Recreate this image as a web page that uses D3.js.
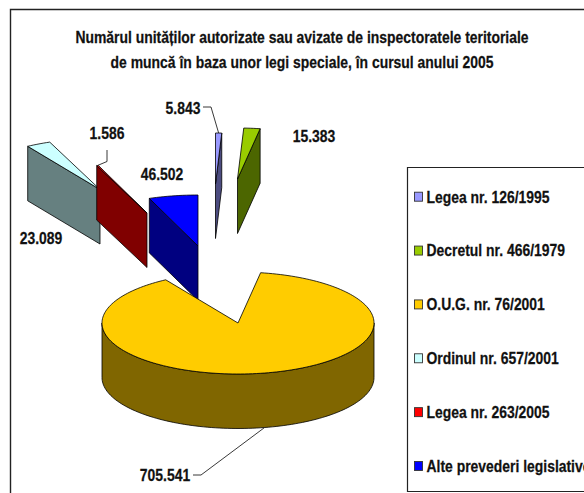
<!DOCTYPE html>
<html lang="ro">
<head>
    <meta charset="UTF-8">
    <title>Unități autorizate 2005</title>
    <script src="https://cdnjs.cloudflare.com/ajax/libs/d3/7.8.5/d3.min.js"></script>
    <style>
        html, body { margin: 0; padding: 0; background: #fff; overflow: hidden; }
        svg { display: block; }
        text { font-family: "Liberation Sans", Arial, sans-serif; font-weight: bold; fill: #111; stroke: #111; stroke-width: 0.25; }
    </style>
</head>
<body>
<svg width="584" height="493"></svg>
<script>
    const categories = ["Legea nr. 126/1995", "Decretul nr. 466/1979", "O.U.G. nr. 76/2001",
        "Ordinul nr. 657/2001", "Legea nr. 263/2005", "Alte prevederi legislative"];
    const values = [5843, 15383, 705541, 23089, 1586, 46502];
    const valueLabels = ["5.843", "15.383", "705.541", "23.089", "1.586", "46.502"];
    const titleLines = ["Numărul unităților autorizate sau avizate de inspectoratele teritoriale",
        "de muncă în baza unor legi speciale, în cursul anului 2005"];
    const topColors = ["#9999ff", "#99cc00", "#ffcc00", "#ccffff", "#ff0000", "#0000ff"];
    const wallColors = ["#4c4c80", "#4c6600", "#806600", "#668080", "#800000", "#000080"];

    // layout
    const cx = 238, cy = 323, rx = 136, ry = 51, depth = 54.5;
    const squeeze = 0.8; // reference font is a horizontally squashed Arial
    // each slice was dragged out by hand in the original, so apex shift is per slice
    const explode = [[-22.5, -139], [-0.5, -144], [0, 0], [-138, -133.5], [-91, -110], [-40, -77]];
    const labelPos = [[183, 114], [314, 142], [165, 481], [41, 244], [107, 139], [162, 180]];
    const drawOrder = [3, 4, 5, 0, 1, 2];

    const svg = d3.select("svg");

    // frame runs off the right and bottom of the crop
    svg.append("path").attr("d", "M10.5,493V9.5H584").attr("fill", "none")
        .attr("stroke", "#222").attr("stroke-width", 1.4);

    function squashed(parent, str, x, y, size, anchor) {
        return parent.append("text")
            .attr("transform", `translate(${x},${y}) scale(${squeeze},1)`)
            .attr("text-anchor", anchor)
            .attr("font-size", size)
            .text(str);
    }

    titleLines.forEach((t, i) => squashed(svg, t, 302, 43 + i * 25, 17.4, "middle"));

    const arcs = d3.pie().sort(null).startAngle(0).endAngle(2 * Math.PI)(values);

    function project(i, a, drop) {
        const o = explode[i];
        return [cx + o[0] + rx * Math.sin(a), cy + o[1] - ry * Math.cos(a) + (drop || 0)];
    }
    const apex = (i, drop) => [cx + explode[i][0], cy + explode[i][1] + (drop || 0)];
    const line = d3.line();
    function rim(i, a0, a1, drop) {
        const n = Math.max(2, Math.ceil(Math.abs(a1 - a0) / 0.03));
        return d3.range(n + 1).map(k => project(i, a0 + (a1 - a0) * k / n, drop));
    }

    const g = svg.append("g").attr("stroke", "#000").attr("stroke-width", 0.8).attr("stroke-linejoin", "round");

    drawOrder.forEach(i => {
        const a = arcs[i];
        const s = a.startAngle, e = a.endAngle;
        if (i === 2) {
            // only the front half of the big slice shows its outer wall
            const front = rim(i, Math.PI / 2, 3 * Math.PI / 2, 0)
                .concat(rim(i, 3 * Math.PI / 2, Math.PI / 2, depth));
            g.append("path").attr("d", line(front) + "Z").attr("fill", wallColors[i]);
        } else {
            // cut face on the side of the slice turned towards the viewer
            const edge = s > Math.PI ? s : e;
            const face = [project(i, edge), apex(i), apex(i, depth), project(i, edge, depth)];
            g.append("path").attr("d", line(face) + "Z").attr("fill", wallColors[i]);
        }
        const top = [apex(i)].concat(rim(i, s, e, 0));
        g.append("path").attr("d", line(top) + "Z").attr("fill", topColors[i]);
    });

    // value labels
    valueLabels.forEach((t, i) => squashed(svg, t, labelPos[i][0], labelPos[i][1], 17.4, "middle"));

    // leader lines
    const leaders = svg.append("g").attr("fill", "none").attr("stroke", "#222").attr("stroke-width", 0.9);
    const mid = i => (arcs[i].startAngle + arcs[i].endAngle) / 2;
    leaders.append("path").attr("d", line([[203, 107], [211, 107], project(0, mid(0))]));
    leaders.append("path").attr("d", line([[107, 150], [107, 161.5], project(4, mid(4))]));
    leaders.append("path").attr("d", line([[193, 475], [201, 475], project(2, mid(2), depth)]));

    // legend
    const legend = svg.append("g");
    legend.append("path").attr("d", "M584,167.5H407.5V491.5H584")
        .attr("fill", "#fff").attr("stroke", "#222").attr("stroke-width", 1.2);
    const legendY = d3.scalePoint().domain(categories).range([196.7, 466]);
    categories.forEach((c, i) => {
        const y = legendY(c);
        legend.append("rect").attr("x", 414.5).attr("y", y - 4.5).attr("width", 8).attr("height", 9)
            .attr("fill", topColors[i]).attr("stroke", "#333").attr("stroke-width", 0.9);
        squashed(legend, c, 426.5, y + 5.8, 17.4, "start");
    });
</script>
</body>
</html>
